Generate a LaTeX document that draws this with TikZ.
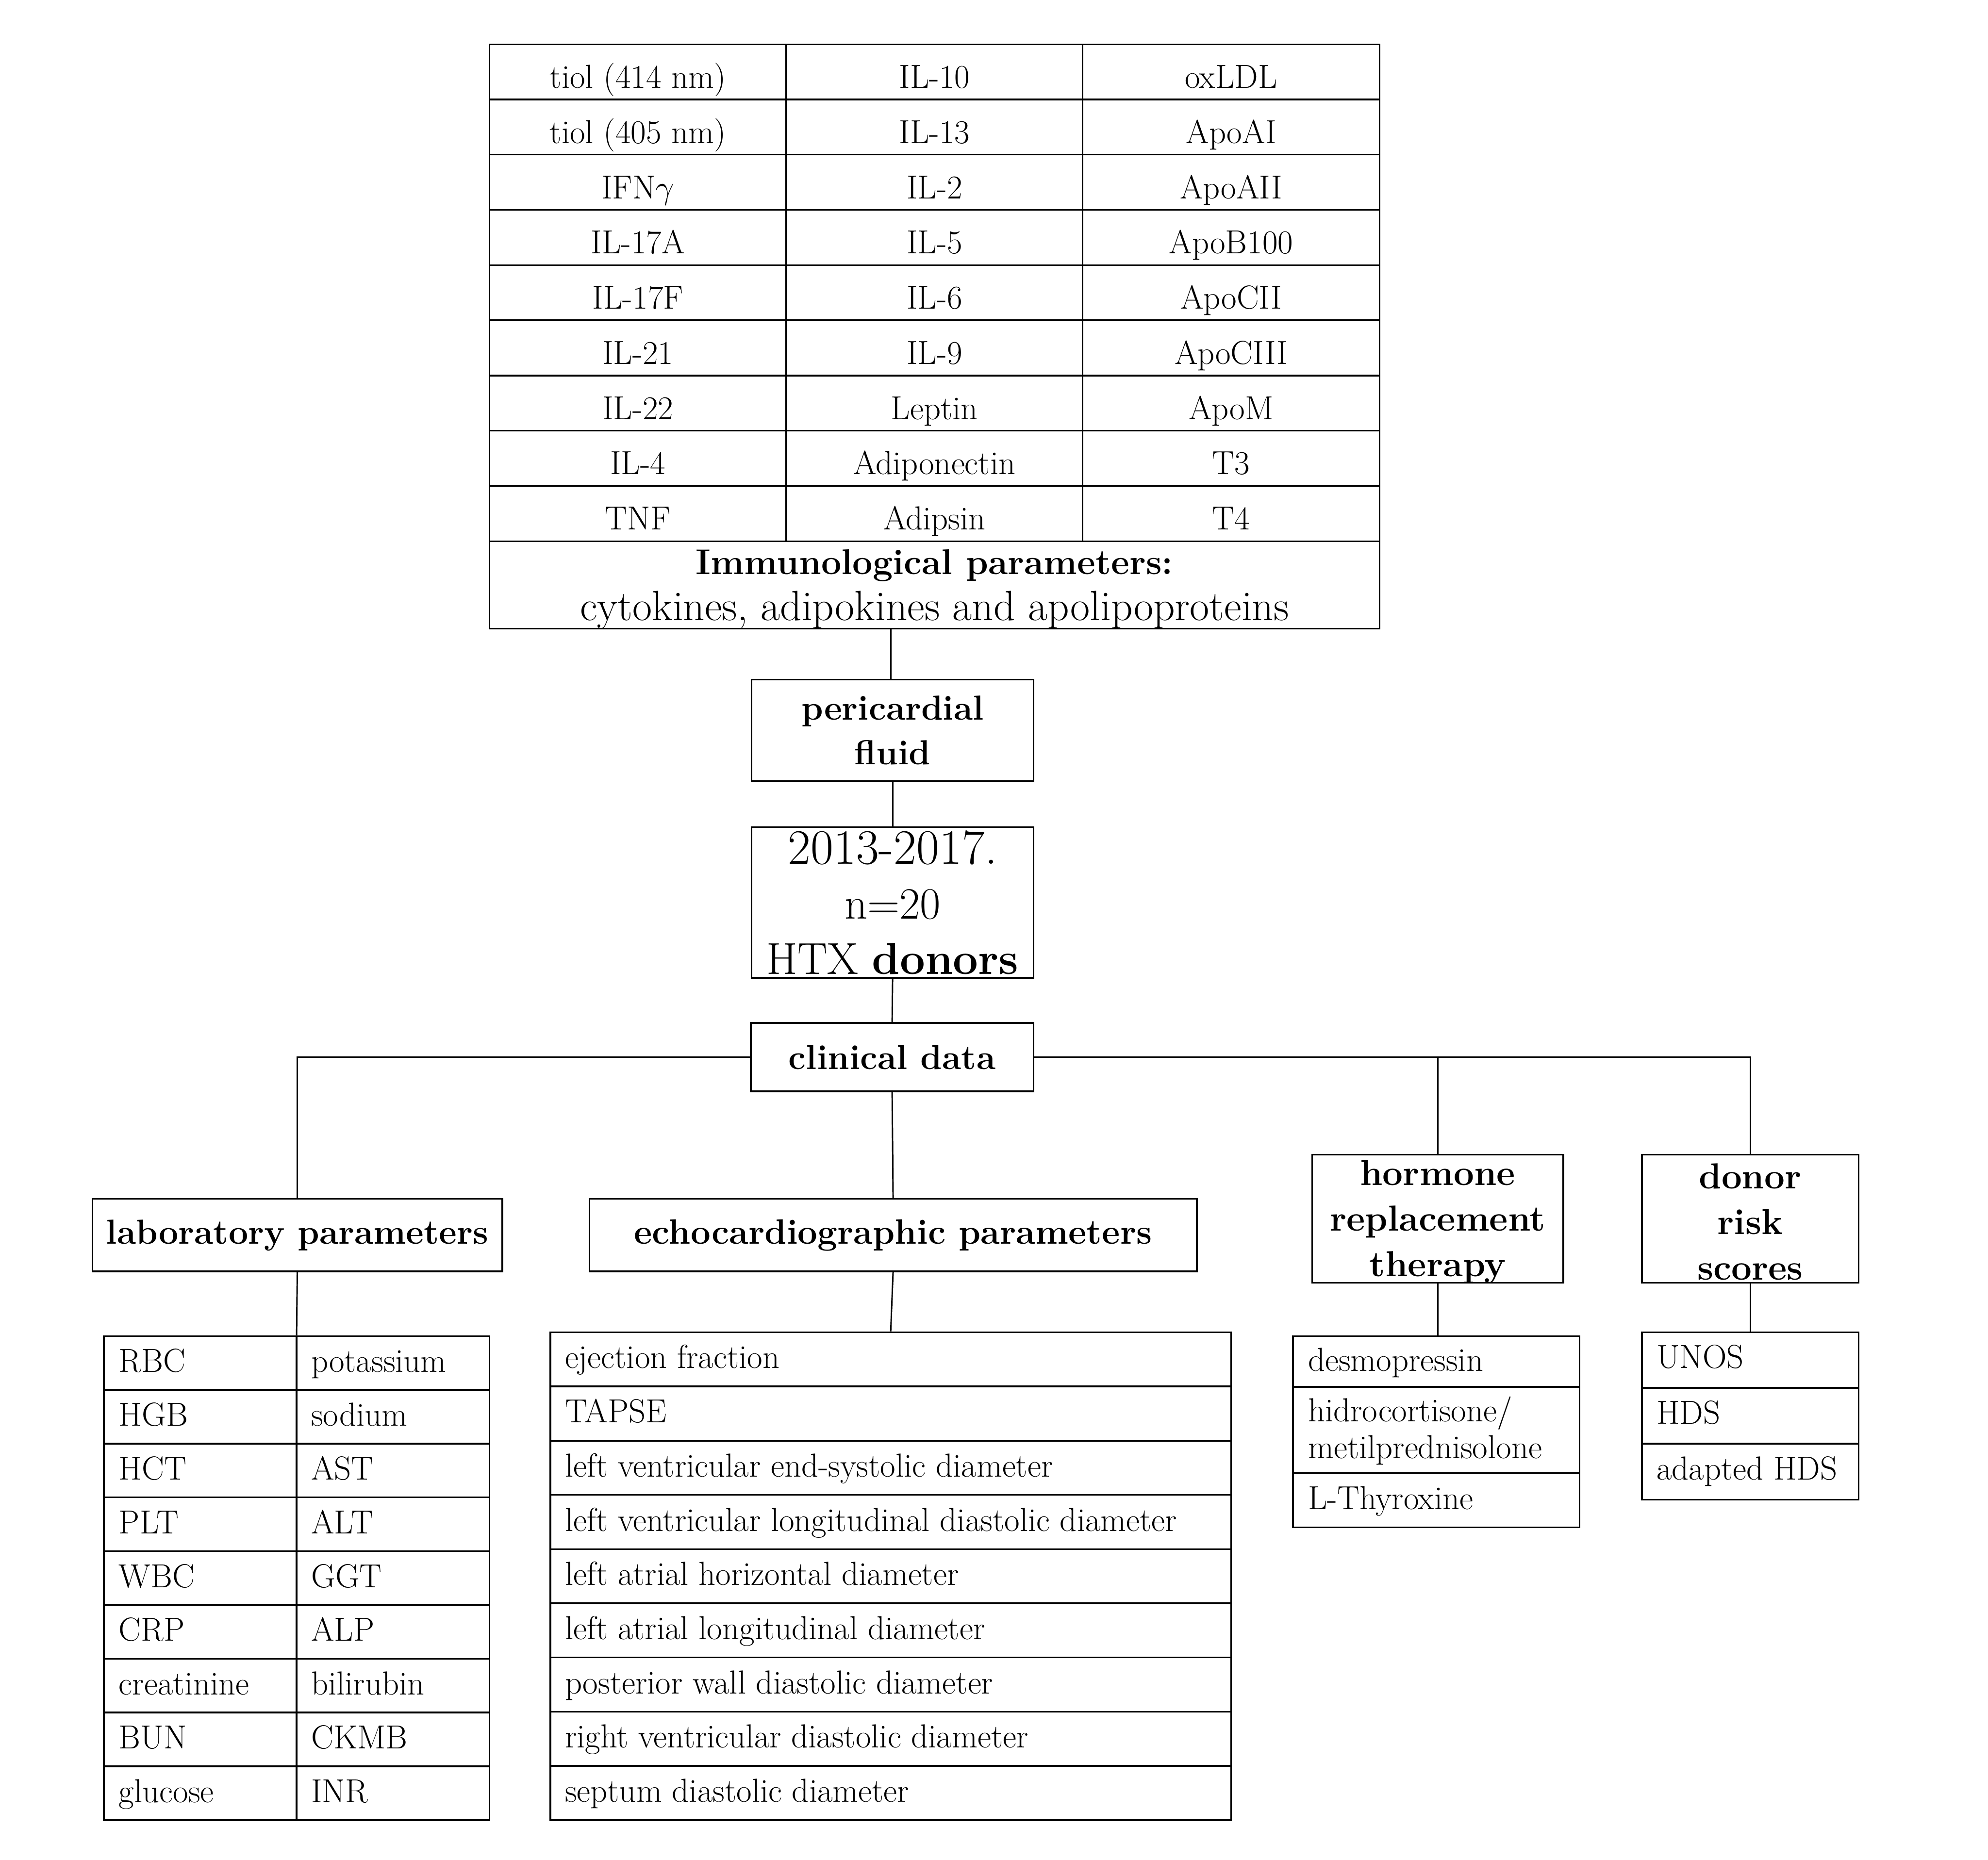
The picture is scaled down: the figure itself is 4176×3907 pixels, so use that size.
\documentclass[tikz,border=0pt]{standalone}
\usepackage{fix-cm}
\usepackage{fontspec}
\newcommand\tabfont{\fontsize{70}{77}\selectfont}
\newcommand\headfont{\fontsize{73}{94}\selectfont\bfseries}
\begin{document}
\begin{tikzpicture}[x=1pt,y=-1pt,line width=3.5pt,
  box/.style={draw,line width=3.5pt,inner sep=0pt,align=center,font=\headfont},
  txt/.style={inner sep=0pt,align=center},
  frame/.style={draw,line width=3.5pt,inner sep=0pt},
  cellc/.style={inner sep=0pt,font=\tabfont,text height=48pt,text depth=14pt},
  celll/.style={inner sep=0pt,font=\tabfont,anchor=west,text height=48pt,text depth=14pt,align=left},
  conn/.style={line width=3pt}]
\fill[white] (0,0) rectangle (4176,3907);
\useasboundingbox (0,0) rectangle (4176,3907);

% ---------- top table ----------
\node[frame,minimum width=1870pt,minimum height=1044pt] (immtab) at (1963,615) {};
\foreach \k in {1,...,8} \draw (1028,93+116*\k) -- (2898,93+116*\k);
\draw (1651,93) -- (1651,1137);
\draw (2274,93) -- (2274,1137);
\foreach \i/\a/\b/\c in {1/tiol (414 nm)/IL-10/oxLDL,2/tiol (405 nm)/IL-13/ApoAI,
  3/IFN$\gamma$/IL-2/ApoAII,4/IL-17A/IL-5/ApoB100,5/IL-17F/IL-6/ApoCII,
  6/IL-21/IL-9/ApoCIII,7/IL-22/Leptin/ApoM,8/IL-4/Adiponectin/T3,9/TNF/Adipsin/T4}{
  \node[cellc] (imm-\i-a) at (1340,93+116*\i-41) {\a};
  \node[cellc] (imm-\i-b) at (1963,93+116*\i-41) {\b};
  \node[cellc] (imm-\i-c) at (2586,93+116*\i-41) {\c};
}
\node[frame,minimum width=1870pt,minimum height=184pt] (caption) at (1963,1229) {};
\node[txt,font=\fontsize{89}{96}\selectfont] (caption-text) at (1963,1238)
  {\fontsize{75}{96}\selectfont\bfseries Immunological parameters:\\
   \fontsize{89}{96}\selectfont\mdseries cytokines, adipokines and apolipoproteins};

% ---------- central column ----------
\node[box,minimum width=592pt,minimum height=213pt] (peri) at (1875,1534.5) {pericardial\\fluid};
\node[box,minimum width=592pt,minimum height=317pt,font=\fontsize{94}{116}\selectfont] (htx) at (1875,1896)
  {{\fontsize{104}{116}\selectfont 2013-2017.}\\n=20\\HTX \textbf{donors}};
\node[box,minimum width=594pt,minimum height=144pt] (clin) at (1874,2221) {clinical data};

% ---------- second level ----------
\node[box,minimum width=861pt,minimum height=152pt] (lab) at (624.5,2595) {laboratory parameters};
\node[box,minimum width=1276pt,minimum height=152pt,font=\fontsize{74}{94}\selectfont\bfseries] (echo) at (1876,2595) {echocardiographic parameters};
\node[frame,minimum width=528pt,minimum height=269pt] (horm) at (3020,2560.5) {};
\node[txt,font=\fontsize{76}{96}\selectfont\bfseries] (horm-text) at (3020,2567) {hormone\\replacement\\therapy};
\node[frame,minimum width=455pt,minimum height=269pt] (donor) at (3676.5,2560.5) {};
\node[txt,font=\fontsize{76}{96}\selectfont\bfseries] (donor-text) at (3676.5,2567) {donor\\risk\\scores};

% ---------- lab table ----------
\node[frame,minimum width=810pt,minimum height=1017pt] (labtab) at (623,3315.5) {};
\foreach \k in {1,...,8} \draw (218,2807+113*\k) -- (1028,2807+113*\k);
\draw (623,2807) -- (623,3824);
\foreach \i/\a/\b in {1/RBC/potassium,2/HGB/sodium,3/HCT/AST,4/PLT/ALT,5/WBC/GGT,
  6/CRP/ALP,7/creatinine/bilirubin,8/BUN/CKMB,9/glucose/INR}{
  \node[celll] (lab-\i-a) at (248,2807+113*\i-54) {\a};
  \node[celll] (lab-\i-b) at (652,2807+113*\i-54) {\b};
}

% ---------- echo table ----------
\node[frame,minimum width=1430pt,minimum height=1025pt] (echotab) at (1871,3311.5) {};
\foreach \k in {1,...,8} \draw (1156,2799+113.9*\k) -- (2586,2799+113.9*\k);
\foreach \i/\a in {1/ejection fraction,2/TAPSE,3/left ventricular end-systolic diameter,
  4/left ventricular longitudinal diastolic diameter,5/left atrial horizontal diameter,
  6/left atrial longitudinal diameter,7/posterior wall diastolic diameter,
  8/right ventricular diastolic diameter,9/septum diastolic diameter}{
  \node[celll] (echo-\i) at (1185,2799+113.9*\i-55) {\a};
}

% ---------- hormone table ----------
\node[frame,minimum width=602pt,minimum height=402pt] (hormtab) at (3017,3008) {};
\draw (2716,2914) -- (3318,2914);
\draw (2716,3095) -- (3318,3095);
\node[celll] (horm-1) at (2746,2864) {desmopressin};
\node[inner sep=0pt,font=\tabfont,anchor=west,align=left] (horm-2) at (2746,3006) {hidrocortisone/\\metilprednisolone};
\node[celll] (horm-3) at (2746,3154) {L-Thyroxine};

% ---------- donor table ----------
\node[frame,minimum width=455pt,minimum height=352pt] (donortab) at (3676.5,2975) {};
\draw (3449,2916) -- (3904,2916);
\draw (3449,3033) -- (3904,3033);
\node[celll] (don-1) at (3478,2857.5) {UNOS};
\node[celll] (don-2) at (3478,2974.5) {HDS};
\node[celll] (don-3) at (3478,3092) {adapted HDS};

% ---------- connectors ----------
\draw[conn] (caption.south -| 1871,0) -- (peri.north -| 1871,0);
\draw[conn] (peri.south) -- (htx.north);
\draw[conn] (htx.south) -- (clin.north);
\draw[conn] (clin.west) -| (lab.north);
\draw[conn] (clin.east) -| (donor.north);
\draw[conn] (clin.east -| horm.north) -- (horm.north);
\draw[conn] (clin.south) -- (echo.north);
\draw[conn] (lab.south) -- (labtab.north);
\draw[conn] (echo.south) -- (echotab.north);
\draw[conn] (horm.south) -- (hormtab.north -| horm.south);
\draw[conn] (donor.south) -- (donortab.north);
\end{tikzpicture}
\end{document}
